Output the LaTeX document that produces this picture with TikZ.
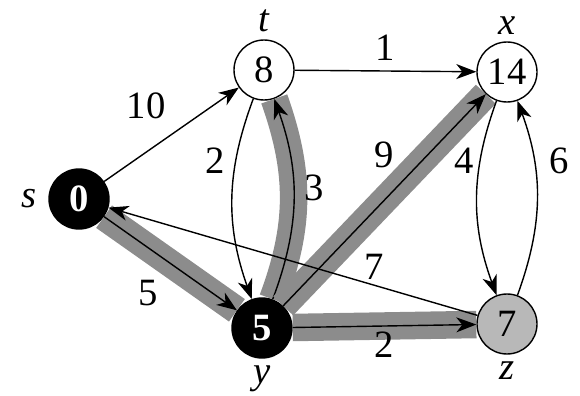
\documentclass[tikz,border=0pt]{standalone}
\usepackage{fontspec}
\setmainfont{Liberation Serif}
\usepackage{tikz}
\usetikzlibrary{arrows.meta,positioning}
\definecolor{treeGray}{gray}{0.55}
\definecolor{queueGray}{gray}{0.72}
\newcommand{\graphfont}{\fontsize{22}{26}\selectfont}
\tikzset{
  vertex/.style={
    circle,
    draw=black,
    fill=white,
    line width=0.8pt,
    minimum size=12mm,
    inner sep=0pt,
    font=\graphfont
  },
  doneVertex/.style={
    vertex,
    fill=black,
    text=white,
    font=\graphfont\bfseries
  },
  nextVertex/.style={
    vertex,
    fill=queueGray
  },
  vname/.style={
    inner sep=1pt,
    font=\graphfont\itshape
  },
  weight/.style={
    inner sep=3pt,
    font=\graphfont
  },
  link/.style={
    -{Stealth[length=4mm,width=3mm,inset=1.2mm]},
    line width=0.8pt
  },
  treeLink/.style={
    preaction={draw=treeGray,line width=5.5mm,arrows=-},
    link
  }
}

\begin{document}
\begin{tikzpicture}
  \useasboundingbox (0,0) rectangle (11.6,7.9);
  \node[doneVertex] (s) at (1.58,3.92) {0};
  \node[vertex] (t) at (5.28,6.50) {8};
  \node[vertex] (x) at (10.14,6.46) {14};
  \node[doneVertex] (y) at (5.24,1.34) {5};
  \node[nextVertex] (z) at (10.14,1.42) {7};
  \node[vname,left=2mm of s] (sName) {s};
  \node[vname,above=1mm of t] (tName) {t};
  \node[vname,above=1mm of x] (xName) {x};
  \node[vname,below=1mm of y] (yName) {y};
  \node[vname,below=1mm of z] (zName) {z};
  % shortest-path tree
  \draw[treeLink] (s) -- node[weight,pos=0.45,below left,yshift=-3mm] {5} (y);
  \draw[treeLink] (y) to[bend right=20] node[weight,pos=0.56,right,xshift=1mm] {3} (t);
  \draw[treeLink] (y) -- node[weight,pos=0.6,above left,yshift=1mm,xshift=-1mm] {9} (x);
  \draw[treeLink] (y) -- node[weight,midway,below] {2} (z);
  % other edges
  \draw[link] (s) -- node[weight,pos=0.5,above left,yshift=2mm] {10} (t);
  \draw[link] (t) -- node[weight,midway,above,yshift=1mm] {1} (x);
  \draw[link] (t) to[bend right=20] node[weight,pos=0.3,left,xshift=-1mm] {2} (y);
  \draw[link] (x) to[bend right=20] node[weight,pos=0.3,left] {4} (z);
  \draw[link] (z) to[bend right=20] node[weight,pos=0.7,right,xshift=2mm] {6} (x);
  \draw[link] (z) -- node[weight,pos=0.28,above] {7} (s);
\end{tikzpicture}
\end{document}
